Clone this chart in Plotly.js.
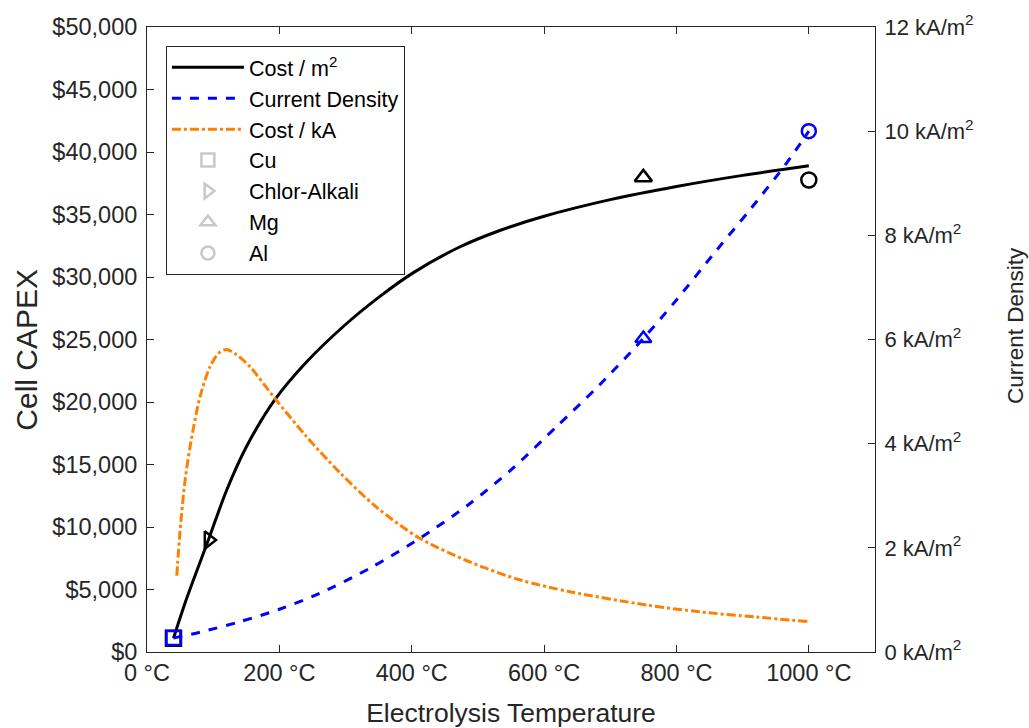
<!DOCTYPE html>
<html>
<head>
<meta charset="utf-8">
<script src="https://cdn.plot.ly/plotly-3.0.1.min.js"></script>
<style>html,body{margin:0;padding:0;background:#fff}#chart{width:1029px;height:728px}</style>
</head>
<body>
<div id="chart"></div>
<script>
// Cost per m2 curve (left axis, $)
var costTemp = [40, 60, 93, 120, 150, 193, 241, 300, 352, 402, 470, 533, 600, 700, 800, 900, 1000];
var costM2 = [1100, 4300, 9000, 12900, 16400, 20170, 23200, 26200, 28450, 30330, 32340, 33720, 34860, 36190, 37240, 38130, 38900];

// Current density curve (right axis, kA/m2)
var cdTemp = [40, 80, 140, 200, 260, 337, 412, 488, 553, 619, 684, 750, 800, 861, 911, 966, 1000];
var currentDensity = [0.27, 0.38, 0.58, 0.82, 1.12, 1.61, 2.18, 2.85, 3.53, 4.33, 5.13, 6.02, 6.76, 7.72, 8.49, 9.38, 10.0];

// Cost per kA curve (left axis scale)
var kaTemp = [45, 50, 57, 65, 80, 95, 108, 120, 135, 156, 193, 241, 292, 347, 412, 488, 563, 639, 755, 835, 920, 1000];
var costKA = [6100, 9700, 13500, 16400, 20400, 22800, 23900, 24200, 23800, 22800, 20300, 17230, 14320, 11570, 9100, 7200, 5775, 4825, 3758, 3214, 2798, 2430];

// Industrial processes
var elements = ["Cu", "Chlor-Alkali", "Mg", "Al"];
var elemTemp = [40, 93, 750, 1000];
var elemCost = [1100, 8960, 37970, 37760];
var elemCD = [0.27, null, 6.02, 10.0];
var elemSymbols = ["square-open", "triangle-right-open", "triangle-up-open", "circle-open"];

// Axis tick labels and titles
var xTickVals = [0, 200, 400, 600, 800, 1000];
var xTickText = xTickVals.map(function(v){ return v + " °C"; });
var y2TickVals = [0, 2, 4, 6, 8, 10, 12];
var y2TickText = y2TickVals.map(function(v){ return v + " kA/m<sup>2</sup>"; });
var xTitle = "Electrolysis Temperature";
var yTitle = "Cell CAPEX";
var y2Title = "Current Density";

var FONT = "Liberation Sans, Arial, Helvetica, sans-serif";
var AX = "#262626";

var traces = [
  {x: costTemp, y: costM2, mode: "lines", name: "Cost / m<sup>2</sup>", line: {color: "#000000", width: 3, shape: "spline", smoothing: 0.8}, yaxis: "y"},
  {x: cdTemp, y: currentDensity, mode: "lines", name: "Current Density", line: {color: "#0000ff", width: 3, dash: "dash", shape: "spline", smoothing: 0.8}, yaxis: "y2"},
  {x: kaTemp, y: costKA, mode: "lines", name: "Cost / kA", line: {color: "#ff8000", width: 3, dash: "dashdot", shape: "spline", smoothing: 0.8}, yaxis: "y"}
];

// legend-only gray markers
elements.forEach(function(el, i){
  traces.push({x: [null], y: [null], mode: "markers", name: el, yaxis: "y",
    marker: {symbol: elemSymbols[i], size: 13, color: "#c8c8c8", line: {color: "#c8c8c8", width: 2.5}}});
});

// actual markers: black on cost, blue on current density
elements.forEach(function(el, i){
  traces.push({x: [elemTemp[i]], y: [elemCost[i]], mode: "markers", showlegend: false, yaxis: "y",
    marker: {symbol: elemSymbols[i], size: 15, color: "#000000", line: {color: "#000000", width: 2.5}}});
  if (elemCD[i] !== null) {
    traces.push({x: [elemTemp[i]], y: [elemCD[i]], mode: "markers", showlegend: false, yaxis: "y2",
      marker: {symbol: elemSymbols[i], size: 14, color: "#0000ff", line: {color: "#0000ff", width: 2.5}}});
  }
});

var layout = {
  width: 1029, height: 728,
  margin: {l: 147, r: 154, t: 27, b: 76, pad: 0},
  paper_bgcolor: "#ffffff", plot_bgcolor: "#ffffff",
  font: {family: FONT, size: 23, color: AX},
  showlegend: true,
  legend: {x: 0.026, y: 0.97, xanchor: "left", yanchor: "top", bgcolor: "#ffffff",
    bordercolor: AX, borderwidth: 1, font: {family: FONT, size: 21.5, color: "#000000"}, itemwidth: 72},
  xaxis: {range: [0, 1100], tickmode: "array", tickvals: xTickVals, ticktext: xTickText, showgrid: false, zeroline: false,
    showline: true, linecolor: AX, linewidth: 1, mirror: "ticks", ticks: "inside", ticklen: 7, tickcolor: AX,
    tickfont: {family: FONT, size: 23.5, color: AX},
    title: {text: xTitle, font: {family: FONT, size: 26.5, color: AX}, standoff: 20}},
  yaxis: {range: [0, 50000], dtick: 5000, tickprefix: "$", tickformat: ",d", showgrid: false, zeroline: false,
    showline: true, linecolor: AX, linewidth: 1, ticks: "inside", ticklen: 7, tickcolor: AX, ticklabelstandoff: 4,
    tickfont: {family: FONT, size: 23.5, color: AX}},
  yaxis2: {range: [0, 12], overlaying: "y", side: "right", tickmode: "array", tickvals: y2TickVals, ticktext: y2TickText,
    showgrid: false, zeroline: false, showline: true, linecolor: AX, linewidth: 1, ticks: "inside", ticklen: 7, tickcolor: AX, ticklabelstandoff: 4,
    tickfont: {family: FONT, size: 22, color: AX}},
  annotations: [
    {text: yTitle, xref: "paper", yref: "paper", x: -0.166, y: 0.484, xanchor: "center", yanchor: "middle",
      textangle: -90, showarrow: false, font: {family: FONT, size: 30, color: AX}},
    {text: y2Title, xref: "paper", yref: "paper", x: 1.1923, y: 0.523, xanchor: "center", yanchor: "middle",
      textangle: -90, showarrow: false, font: {family: FONT, size: 22.5, color: AX}}
  ]
};

Plotly.newPlot("chart", traces, layout, {displayModeBar: false, staticPlot: true});
</script>
</body>
</html>
